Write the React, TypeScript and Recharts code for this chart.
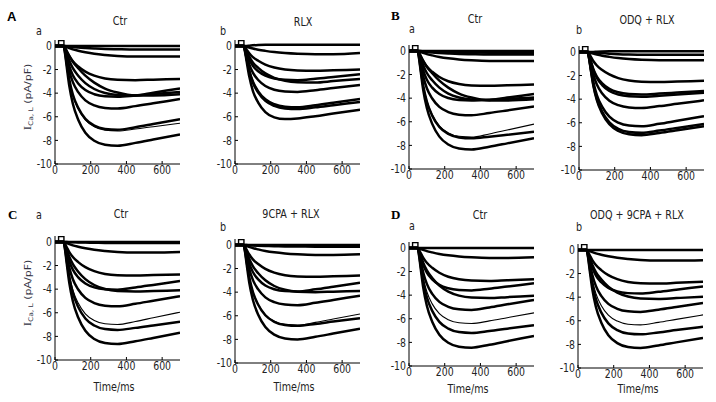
import React from 'react';
import { LineChart, Line, XAxis, YAxis } from 'recharts';

// sample times (ms) shared by every trace
const T = [0, 48, 55, 65, 80, 100, 130, 170, 220, 280, 350, 450, 550, 700];

// small capacitive step drawn at the start of each record
const STIM_T = [0, 20, 20, 50, 50];
const STIM_V = [0, 0, 0.45, 0.45, 0];

const X_TICKS = [0, 200, 400, 600];
const Y_TICKS = [-10, -8, -6, -4, -2, 0];

// I Ca,L (pA/pF) traces, one row per test potential
const aCtr = [
  [0, 0, 0, 0, 0, 0, 0, 0, 0, 0, 0, 0, 0, 0],
  [0, 0, -0.01, -0.03, -0.06, -0.1, -0.14, -0.18, -0.22, -0.26, -0.28, -0.3, -0.3, -0.3],
  [0, 0, -0.03, -0.09, -0.18, -0.29, -0.41, -0.54, -0.67, -0.77, -0.85, -0.9, -0.9, -0.9],
  [0, 0, -0.15, -0.44, -0.87, -1.31, -1.74, -2.18, -2.52, -2.76, -2.87, -2.9, -2.86, -2.8],
  [0, 0, -0.21, -0.63, -1.26, -1.89, -2.52, -3.15, -3.65, -3.99, -4.16, -4.2, -3.96, -3.6],
  [0, 0, -0.26, -0.86, -1.72, -2.49, -3.18, -3.74, -4.09, -4.26, -4.3, -4.2, -4.08, -3.9],
  [0, 0, -0.13, -0.42, -0.84, -1.34, -1.89, -2.52, -3.11, -3.61, -3.95, -4.2, -4.2, -4.1],
  [0, 0, -0.32, -1.06, -2.12, -3.07, -3.92, -4.61, -5.04, -5.25, -5.3, -5.1, -4.86, -4.5],
  [0, 0, -0.43, -1.42, -2.84, -4.12, -5.25, -6.18, -6.75, -7.03, -7.1, -6.88, -6.61, -6.2],
  [0, 0, -0.43, -1.44, -2.88, -4.18, -5.33, -6.26, -6.84, -7.13, -7.2, -7.04, -6.84, -6.55],
  [0, 0, -0.51, -1.69, -3.38, -4.9, -6.25, -7.35, -8.03, -8.37, -8.45, -8.21, -7.93, -7.5],
];

const aRlx = [
  [0, 0, 0, 0, 0.02, 0.05, 0.08, 0.1, 0.1, 0.1, 0.1, 0.1, 0.1, 0.1],
  [0, 0, -0.02, -0.07, -0.14, -0.22, -0.32, -0.42, -0.52, -0.6, -0.66, -0.7, -0.7, -0.6],
  [0, 0, -0.11, -0.32, -0.63, -0.95, -1.26, -1.58, -1.83, -2.0, -2.08, -2.1, -2.06, -2.0],
  [0, 0, -0.17, -0.58, -1.16, -1.68, -2.15, -2.52, -2.76, -2.87, -2.9, -2.78, -2.63, -2.4],
  [0, 0, -0.16, -0.47, -0.93, -1.4, -1.86, -2.33, -2.7, -2.95, -3.07, -3.1, -2.98, -2.8],
  [0, 0, -0.23, -0.78, -1.56, -2.26, -2.89, -3.39, -3.71, -3.86, -3.9, -3.75, -3.57, -3.3],
  [0, 0, -0.31, -1.04, -2.08, -3.02, -3.85, -4.52, -4.94, -5.15, -5.2, -5.03, -4.82, -4.5],
  [0, 0, -0.32, -1.07, -2.14, -3.1, -3.96, -4.65, -5.08, -5.3, -5.35, -5.2, -5.02, -4.75],
  [0, 0, -0.4, -1.3, -2.6, -3.8, -4.8, -5.6, -6.05, -6.2, -6.15, -5.95, -5.72, -5.4],
];

const bCtr = [
  [0, 0, 0, 0, 0, 0, 0, 0, 0, 0, 0, 0, 0, 0],
  [0, 0, 0, -0.01, -0.03, -0.05, -0.07, -0.09, -0.11, -0.13, -0.14, -0.15, -0.15, -0.15],
  [0, 0, -0.01, -0.03, -0.06, -0.1, -0.14, -0.18, -0.22, -0.26, -0.28, -0.3, -0.3, -0.3],
  [0, 0, -0.03, -0.09, -0.17, -0.27, -0.38, -0.51, -0.63, -0.73, -0.8, -0.85, -0.85, -0.85],
  [0, 0, -0.15, -0.44, -0.89, -1.33, -1.77, -2.21, -2.57, -2.8, -2.92, -2.95, -2.91, -2.85],
  [0, 0, -0.21, -0.62, -1.25, -1.87, -2.49, -3.11, -3.61, -3.94, -4.11, -4.15, -3.95, -3.65],
  [0, 0, -0.25, -0.84, -1.68, -2.44, -3.11, -3.65, -3.99, -4.16, -4.2, -4.14, -4.06, -3.95],
  [0, 0, -0.13, -0.42, -0.84, -1.34, -1.89, -2.52, -3.11, -3.61, -3.95, -4.2, -4.2, -4.1],
  [0, 0, -0.33, -1.09, -2.18, -3.16, -4.03, -4.74, -5.18, -5.4, -5.45, -5.26, -5.04, -4.7],
  [0, 0, -0.44, -1.46, -2.92, -4.23, -5.4, -6.35, -6.94, -7.23, -7.3, -7.03, -6.7, -6.2],
  [0, 0, -0.44, -1.48, -2.96, -4.29, -5.48, -6.44, -7.03, -7.33, -7.4, -7.26, -7.1, -6.85],
  [0, 0, -0.5, -1.67, -3.34, -4.84, -6.18, -7.26, -7.93, -8.27, -8.35, -8.11, -7.83, -7.4],
];

const bOdq = [
  [0, 0, 0, 0, 0, 0.02, 0.04, 0.05, 0.05, 0.05, 0.05, 0.05, 0.05, 0.05],
  [0, 0, -0.01, -0.03, -0.05, -0.08, -0.11, -0.15, -0.19, -0.22, -0.24, -0.25, -0.25, -0.25],
  [0, 0, -0.02, -0.07, -0.14, -0.22, -0.32, -0.42, -0.52, -0.6, -0.66, -0.7, -0.7, -0.7],
  [0, 0, -0.13, -0.38, -0.77, -1.15, -1.53, -1.91, -2.22, -2.42, -2.52, -2.55, -2.51, -2.45],
  [0, 0, -0.22, -0.72, -1.44, -2.09, -2.66, -3.13, -3.42, -3.56, -3.6, -3.53, -3.44, -3.3],
  [0, 0, -0.23, -0.76, -1.52, -2.2, -2.81, -3.31, -3.61, -3.76, -3.8, -3.71, -3.61, -3.45],
  [0, 0, -0.29, -0.95, -1.9, -2.76, -3.52, -4.13, -4.51, -4.7, -4.75, -4.59, -4.39, -4.1],
  [0, 0, -0.38, -1.26, -2.52, -3.65, -4.66, -5.48, -5.99, -6.24, -6.3, -6.09, -5.83, -5.45],
  [0, 0, -0.41, -1.37, -2.74, -3.97, -5.07, -5.96, -6.51, -6.78, -6.85, -6.66, -6.44, -6.1],
  [0, 0, -0.42, -1.41, -2.82, -4.09, -5.22, -6.13, -6.7, -6.98, -7.05, -6.86, -6.64, -6.3],
];

const cCtr = [
  [0, 0, 0, 0, 0, 0, 0, 0, 0, 0, 0, 0, 0, 0],
  [0, 0, 0, -0.01, -0.02, -0.03, -0.05, -0.06, -0.07, -0.09, -0.09, -0.1, -0.1, -0.1],
  [0, 0, -0.03, -0.09, -0.18, -0.29, -0.41, -0.54, -0.67, -0.77, -0.85, -0.9, -0.9, -0.85],
  [0, 0, -0.14, -0.43, -0.86, -1.28, -1.71, -2.14, -2.48, -2.71, -2.82, -2.85, -2.81, -2.75],
  [0, 0, -0.24, -0.81, -1.62, -2.35, -3.0, -3.52, -3.85, -4.01, -4.05, -3.86, -3.64, -3.3],
  [0, 0, -0.21, -0.63, -1.26, -1.89, -2.52, -3.15, -3.65, -3.99, -4.16, -4.2, -4.16, -4.1],
  [0, 0, -0.33, -1.09, -2.18, -3.16, -4.03, -4.74, -5.18, -5.4, -5.45, -5.24, -4.98, -4.6],
  [0, 0, -0.42, -1.4, -2.8, -4.06, -5.18, -6.09, -6.65, -6.93, -7.0, -6.74, -6.42, -5.95],
  [0, 0, -0.45, -1.49, -2.98, -4.32, -5.51, -6.48, -7.08, -7.38, -7.45, -7.28, -7.07, -6.75],
  [0, 0, -0.52, -1.73, -3.46, -5.02, -6.4, -7.53, -8.22, -8.56, -8.65, -8.41, -8.13, -7.7],
];

const c9cpa = [
  [0, 0, 0, 0, 0, 0, 0, 0, 0, 0, 0, 0, 0, 0],
  [0, 0, 0, -0.01, -0.03, -0.05, -0.07, -0.09, -0.11, -0.13, -0.14, -0.15, -0.15, -0.15],
  [0, 0, -0.03, -0.09, -0.17, -0.27, -0.38, -0.51, -0.63, -0.73, -0.8, -0.85, -0.85, -0.8],
  [0, 0, -0.14, -0.41, -0.81, -1.22, -1.62, -2.03, -2.35, -2.57, -2.67, -2.7, -2.66, -2.6],
  [0, 0, -0.24, -0.79, -1.58, -2.29, -2.92, -3.44, -3.75, -3.91, -3.95, -3.76, -3.54, -3.2],
  [0, 0, -0.2, -0.6, -1.2, -1.8, -2.4, -3.0, -3.48, -3.8, -3.96, -4.0, -3.96, -3.9],
  [0, 0, -0.31, -1.02, -2.04, -2.96, -3.77, -4.44, -4.85, -5.05, -5.1, -4.9, -4.66, -4.3],
  [0, 0, -0.41, -1.36, -2.72, -3.94, -5.03, -5.92, -6.46, -6.73, -6.8, -6.56, -6.28, -5.85],
  [0, 0, -0.41, -1.37, -2.74, -3.97, -5.07, -5.96, -6.51, -6.78, -6.85, -6.69, -6.49, -6.2],
  [0, 0, -0.48, -1.6, -3.2, -4.64, -5.92, -6.96, -7.6, -7.92, -8.0, -7.78, -7.51, -7.1],
];

const dCtr = [
  [0, 0, 0, 0, 0, 0, 0, 0, 0, 0, 0, 0, 0, 0],
  [0, 0, -0.03, -0.09, -0.17, -0.27, -0.38, -0.51, -0.63, -0.73, -0.8, -0.85, -0.85, -0.8],
  [0, 0, -0.14, -0.42, -0.84, -1.26, -1.68, -2.1, -2.44, -2.66, -2.77, -2.8, -2.74, -2.65],
  [0, 0, -0.22, -0.72, -1.44, -2.09, -2.66, -3.13, -3.42, -3.56, -3.6, -3.45, -3.27, -3.0],
  [0, 0, -0.21, -0.64, -1.28, -1.91, -2.55, -3.19, -3.7, -4.04, -4.21, -4.25, -4.17, -4.05],
  [0, 0, -0.32, -1.05, -2.1, -3.05, -3.89, -4.57, -4.99, -5.2, -5.25, -5.04, -4.78, -4.4],
  [0, 0, -0.38, -1.28, -2.56, -3.71, -4.74, -5.57, -6.08, -6.34, -6.4, -6.18, -5.91, -5.5],
  [0, 0, -0.43, -1.44, -2.88, -4.18, -5.33, -6.26, -6.84, -7.13, -7.2, -7.04, -6.84, -6.55],
  [0, 0, -0.51, -1.69, -3.38, -4.9, -6.25, -7.35, -8.03, -8.37, -8.45, -8.2, -7.9, -7.45],
];

const dOdq = [
  [0, 0, 0, 0, 0, 0, 0, 0, 0, 0, 0, 0, 0, 0],
  [0, 0, -0.03, -0.09, -0.18, -0.29, -0.41, -0.54, -0.67, -0.77, -0.85, -0.9, -0.9, -0.87],
  [0, 0, -0.14, -0.43, -0.86, -1.28, -1.71, -2.14, -2.48, -2.71, -2.82, -2.85, -2.79, -2.7],
  [0, 0, -0.22, -0.74, -1.48, -2.15, -2.74, -3.22, -3.52, -3.66, -3.7, -3.55, -3.37, -3.1],
  [0, 0, -0.21, -0.62, -1.25, -1.87, -2.49, -3.11, -3.61, -3.94, -4.11, -4.15, -4.08, -3.97],
  [0, 0, -0.32, -1.05, -2.1, -3.05, -3.89, -4.57, -4.99, -5.2, -5.25, -5.06, -4.84, -4.5],
  [0, 0, -0.38, -1.27, -2.54, -3.68, -4.7, -5.52, -6.03, -6.29, -6.35, -6.14, -5.88, -5.5],
  [0, 0, -0.43, -1.43, -2.86, -4.15, -5.29, -6.22, -6.79, -7.08, -7.15, -6.99, -6.79, -6.5],
  [0, 0, -0.5, -1.66, -3.32, -4.81, -6.14, -7.22, -7.89, -8.22, -8.3, -8.09, -7.83, -7.45],
];

// layout: x0/y0 = pixel of (0 ms, 0 pA/pF)
const PANELS = [
  { traces: aCtr, thin: [9], x0: 54.5, y0: 45.6 },
  { traces: aRlx, thin: [], x0: 234.5, y0: 45.6 },
  { traces: bCtr, thin: [9], x0: 409, y0: 51.4 },
  { traces: bOdq, thin: [], x0: 579, y0: 51.5 },
  { traces: cCtr, thin: [7], x0: 54.5, y0: 242.3 },
  { traces: c9cpa, thin: [7], x0: 234.5, y0: 245 },
  { traces: dCtr, thin: [6], x0: 408.5, y0: 247.8 },
  { traces: dOdq, thin: [6], x0: 577.5, y0: 249.7 },
];

const TITLES = [
  { text: 'Ctr', x: 120, y: 25 },
  { text: 'RLX', x: 303, y: 26 },
  { text: 'Ctr', x: 475, y: 23 },
  { text: 'ODQ + RLX', x: 647, y: 24 },
  { text: 'Ctr', x: 121, y: 218 },
  { text: '9CPA + RLX', x: 291, y: 218 },
  { text: 'Ctr', x: 480, y: 219 },
  { text: 'ODQ + 9CPA + RLX', x: 637, y: 219 },
];

const SUBS = [
  { text: 'a', x: 36, y: 35 },
  { text: 'b', x: 220, y: 35 },
  { text: 'a', x: 409, y: 33 },
  { text: 'b', x: 576, y: 34 },
  { text: 'a', x: 36, y: 219 },
  { text: 'b', x: 220, y: 231 },
  { text: 'a', x: 409, y: 230 },
  { text: 'b', x: 576, y: 231 },
];

const X_TITLES = [
  { x: 114, y: 391 },
  { x: 294, y: 391 },
  { x: 468, y: 393 },
  { x: 638, y: 393 },
];

const YW = 30;
const PW = 125;
const PH = 124;
const MT = 4;
const MR = 4;
const XH = 22;
const SX = 0.78;
const FONT = '"DejaVu Sans", Verdana, sans-serif';

const XTick = (props: any) => {
  const { x, y, payload } = props;
  return (
    <g transform={`translate(${x},${y}) scale(${SX},1)`}>
      <text x={0} y={0} dy={10} textAnchor="middle" fontSize={12} fontFamily={FONT} fill="#222">
        {payload.value}
      </text>
    </g>
  );
};

const YTick = (props: any) => {
  const { x, y, payload } = props;
  return (
    <g transform={`translate(${x - 3},${y}) scale(${SX},1)`}>
      <text x={0} y={0} dy={4.3} textAnchor="end" fontSize={12} fontFamily={FONT} fill="#222">
        {payload.value}
      </text>
    </g>
  );
};

const Panel = ({ traces, thin, x0, y0 }: any) => {
  const rows = T.map((t, i) => {
    const r: Record<string, number> = { t };
    traces.forEach((tr: number[], k: number) => {
      r['s' + k] = tr[i];
    });
    return r;
  });
  const stim = STIM_T.map((t, i) => ({ t, v: STIM_V[i] }));
  const top = y0 - (PH / 10.5) * 0.5 - MT;
  return (
    <div style={{ position: 'absolute', left: x0 - YW, top }}>
      <LineChart
        width={YW + PW + MR}
        height={MT + PH + XH}
        data={rows}
        margin={{ top: MT, right: MR, bottom: 0, left: 0 }}
      >
        <XAxis
          dataKey="t"
          type="number"
          domain={[0, 700]}
          ticks={X_TICKS}
          interval={0}
          height={XH}
          tickSize={-3}
          tickMargin={3}
          tick={XTick}
          stroke="#000"
          allowDataOverflow
        />
        <YAxis
          type="number"
          domain={[-10, 0.5]}
          ticks={Y_TICKS}
          interval={0}
          width={YW}
          tickSize={-3}
          tickMargin={3}
          tick={YTick}
          stroke="#000"
          allowDataOverflow
        />
        {traces.map((_: number[], k: number) => (
          <Line
            key={k}
            dataKey={'s' + k}
            type="monotone"
            stroke="#000"
            strokeWidth={thin.includes(k) ? 1.1 : 2.5}
            dot={false}
            isAnimationActive={false}
          />
        ))}
        <Line
          data={stim}
          dataKey="v"
          type="linear"
          stroke="#000"
          strokeWidth={1.4}
          dot={false}
          isAnimationActive={false}
        />
      </LineChart>
    </div>
  );
};

const YLabel = ({ y }: { y: number }) => (
  <text
    transform={`translate(31,${y}) scale(0.85,1) rotate(-90)`}
    textAnchor="middle"
    fontSize={11}
    fontFamily={FONT}
    fill="#333344"
  >
    <tspan fontFamily='"Liberation Serif", serif' fontSize={13}>I</tspan>
    <tspan fontSize={7.5} dy={2}>Ca, L</tspan>
    <tspan dy={-2}> (pA/pF)</tspan>
  </text>
);

export default function App() {
  return (
    <div style={{ position: 'absolute', left: 0, top: 0, width: 716, height: 402, background: '#fff', overflow: 'hidden' }}>
      {PANELS.map((p, i) => (
        <Panel key={i} {...p} />
      ))}
      <svg width={716} height={402} style={{ position: 'absolute', left: 0, top: 0, pointerEvents: 'none' }}>
        <text x={7} y={21} fontSize={13} fontWeight="bold" fontFamily='"Liberation Sans", Arial, sans-serif'>A</text>
        <text x={391} y={20} fontSize={13} fontWeight="bold" fontFamily='"Liberation Serif", serif'>B</text>
        <text x={8} y={219} fontSize={13} fontWeight="bold" fontFamily='"Liberation Serif", serif'>C</text>
        <text x={391} y={219} fontSize={13} fontWeight="bold" fontFamily='"Liberation Serif", serif'>D</text>
        {TITLES.map((t, i) => (
          <text key={'t' + i} transform={`translate(${t.x},${t.y}) scale(0.8,1)`} textAnchor="middle" fontSize={12} fontFamily={FONT} fill="#222">
            {t.text}
          </text>
        ))}
        {SUBS.map((t, i) => (
          <text key={'s' + i} transform={`translate(${t.x},${t.y}) scale(0.8,1)`} fontSize={12} fontFamily={FONT} fill="#222">
            {t.text}
          </text>
        ))}
        <YLabel y={97} />
        <YLabel y={293} />
        {X_TITLES.map((t, i) => (
          <text key={'x' + i} transform={`translate(${t.x},${t.y}) scale(0.8,1)`} textAnchor="middle" fontSize={12} fontFamily={FONT} fill="#222">
            Time/ms
          </text>
        ))}
      </svg>
    </div>
  );
}
